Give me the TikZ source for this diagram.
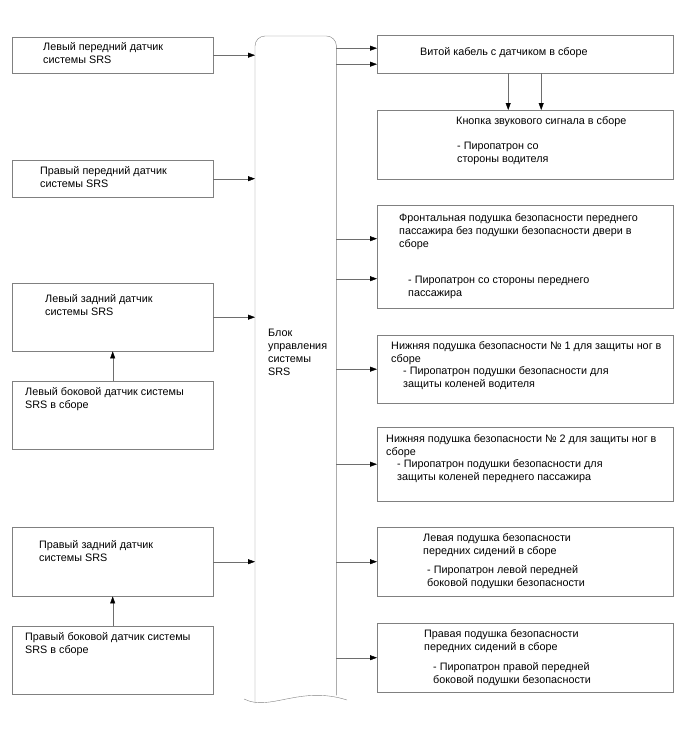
\documentclass[tikz,border=0pt]{standalone}
\usepackage{fontspec}
\setmainfont{Liberation Sans}
\usetikzlibrary{arrows.meta,calc}
\definecolor{framegrey}{RGB}{128,128,128}
\definecolor{linegrey}{RGB}{110,110,110}

\begin{document}
\begin{tikzpicture}[
    x=1pt, y=-1pt,
    box/.style={draw=framegrey, anchor=north west, inner sep=0pt},
    txt/.style={anchor=base west, align=left, inner sep=0pt,
                font=\fontsize{10.8}{13}\selectfont},
    arr/.style={draw=linegrey, -{Triangle[length=7pt, width=5pt, color=black]}}
]
    \useasboundingbox (0,0) rectangle (688,755);

    % left sensors
    \node[box, minimum width=201pt, minimum height=36pt] (lf) at (12,37) {};
    \node[box, minimum width=201pt, minimum height=37pt] (rf) at (12,160) {};
    \node[box, minimum width=201pt, minimum height=68pt] (lr) at (12,283) {};
    \node[box, minimum width=201pt, minimum height=68pt] (ls) at (12,381) {};
    \node[box, minimum width=201pt, minimum height=69pt] (rr) at (12,527) {};
    \node[box, minimum width=201pt, minimum height=68pt] (rs) at (12,626) {};

    % text nodes sit on the baseline of their last line
    \node[txt] (lft) at (43,63)  {Левый передний датчик\\системы SRS};
    \node[txt] (rft) at (40,187) {Правый передний датчик\\системы SRS};
    \node[txt] (lrt) at (45,315) {Левый задний датчик\\системы SRS};
    \node[txt] (lst) at (25,408) {Левый боковой датчик системы\\SRS в сборе};
    \node[txt] (rrt) at (39,561) {Правый задний датчик\\системы SRS};
    \node[txt] (rst) at (25,653) {Правый боковой датчик системы\\SRS в сборе};

    % control unit
    \node[anchor=north west, inner sep=0pt, minimum width=81pt, minimum height=667pt] (ecu) at (255,36) {};
    \draw[framegrey, rounded corners=10pt] (ecu.south west) -- (ecu.north west) -- (ecu.north east) -- ([yshift=8pt]ecu.south east);
    \draw[framegrey] (244,699) .. controls (270,712) and (300,685) .. (347,700);
    \node[txt] (ecut) at (268,375) {Блок\\управления\\системы\\SRS};

    % right consumers
    \node[box, minimum width=296pt, minimum height=38pt]  (r1) at (377,35) {};
    \node[box, minimum width=296pt, minimum height=69pt]  (r2) at (377,110) {};
    \node[box, minimum width=296pt, minimum height=103pt] (r3) at (377,205) {};
    \node[box, minimum width=296pt, minimum height=68pt]  (r4) at (377,335) {};
    \node[box, minimum width=296pt, minimum height=74pt]  (r5) at (377,427) {};
    \node[box, minimum width=296pt, minimum height=69pt]  (r6) at (377,527) {};
    \node[box, minimum width=296pt, minimum height=69pt]  (r7) at (377,623) {};

    \node[txt] (r1t) at (420,55)  {Витой кабель с датчиком в сборе};
    \node[txt] (r2t) at (456,124) {Кнопка звукового сигнала в сборе};
    \node[txt] (r2s) at (457,162) {- Пиропатрон со\\стороны водителя};
    \node[txt] (r3t) at (399,247) {Фронтальная подушка безопасности переднего\\пассажира без подушки безопасности двери в\\сборе};
    \node[txt] (r3s) at (408,296) {- Пиропатрон со стороны переднего\\пассажира};
    \node[txt] (r4t) at (391,362) {Нижняя подушка безопасности № 1 для защиты ног в\\сборе};
    \node[txt] (r4s) at (403,387) {- Пиропатрон подушки безопасности для\\защиты коленей водителя};
    \node[txt] (r5t) at (386,455) {Нижняя подушка безопасности № 2 для защиты ног в\\сборе};
    \node[txt] (r5s) at (397,480) {- Пиропатрон подушки безопасности для\\защиты коленей переднего пассажира};
    \node[txt] (r6t) at (423,554) {Левая подушка безопасности\\передних сидений в сборе};
    \node[txt] (r6s) at (427,586) {- Пиропатрон левой передней\\боковой подушки безопасности};
    \node[txt] (r7t) at (424,650) {Правая подушка безопасности\\передних сидений в сборе};
    \node[txt] (r7s) at (433,683) {- Пиропатрон правой передней\\боковой подушки безопасности};

    % connections
    \draw[arr] (lf.east) -- (lf.east -| ecu.west);
    \draw[arr] (rf.east) -- (rf.east -| ecu.west);
    \draw[arr] (lr.east) -- (lr.east -| ecu.west);
    \draw[arr] (rr.east) -- (rr.east -| ecu.west);
    \draw[arr] (ls.north) -- (lr.south);
    \draw[arr] (rs.north) -- (rr.south);

    \draw[arr] ([yshift=6pt]r1.west -| ecu.east) -- ([yshift=6pt]r1.west);
    \draw[arr] ([yshift=-10pt]r1.west -| ecu.east) -- ([yshift=-10pt]r1.west);
    \draw[arr] ([xshift=-17pt]r1.south) -- ([xshift=-17pt]r2.north);
    \draw[arr] ([xshift=16pt]r1.south) -- ([xshift=16pt]r2.north);
    \draw[arr] ([yshift=18pt]r3.west -| ecu.east) -- ([yshift=18pt]r3.west);
    \draw[arr] ([yshift=-22pt]r3.west -| ecu.east) -- ([yshift=-22pt]r3.west);
    \foreach \r in {r4,r5,r6,r7}
        \draw[arr] (\r.west -| ecu.east) -- (\r.west);
\end{tikzpicture}
\end{document}
